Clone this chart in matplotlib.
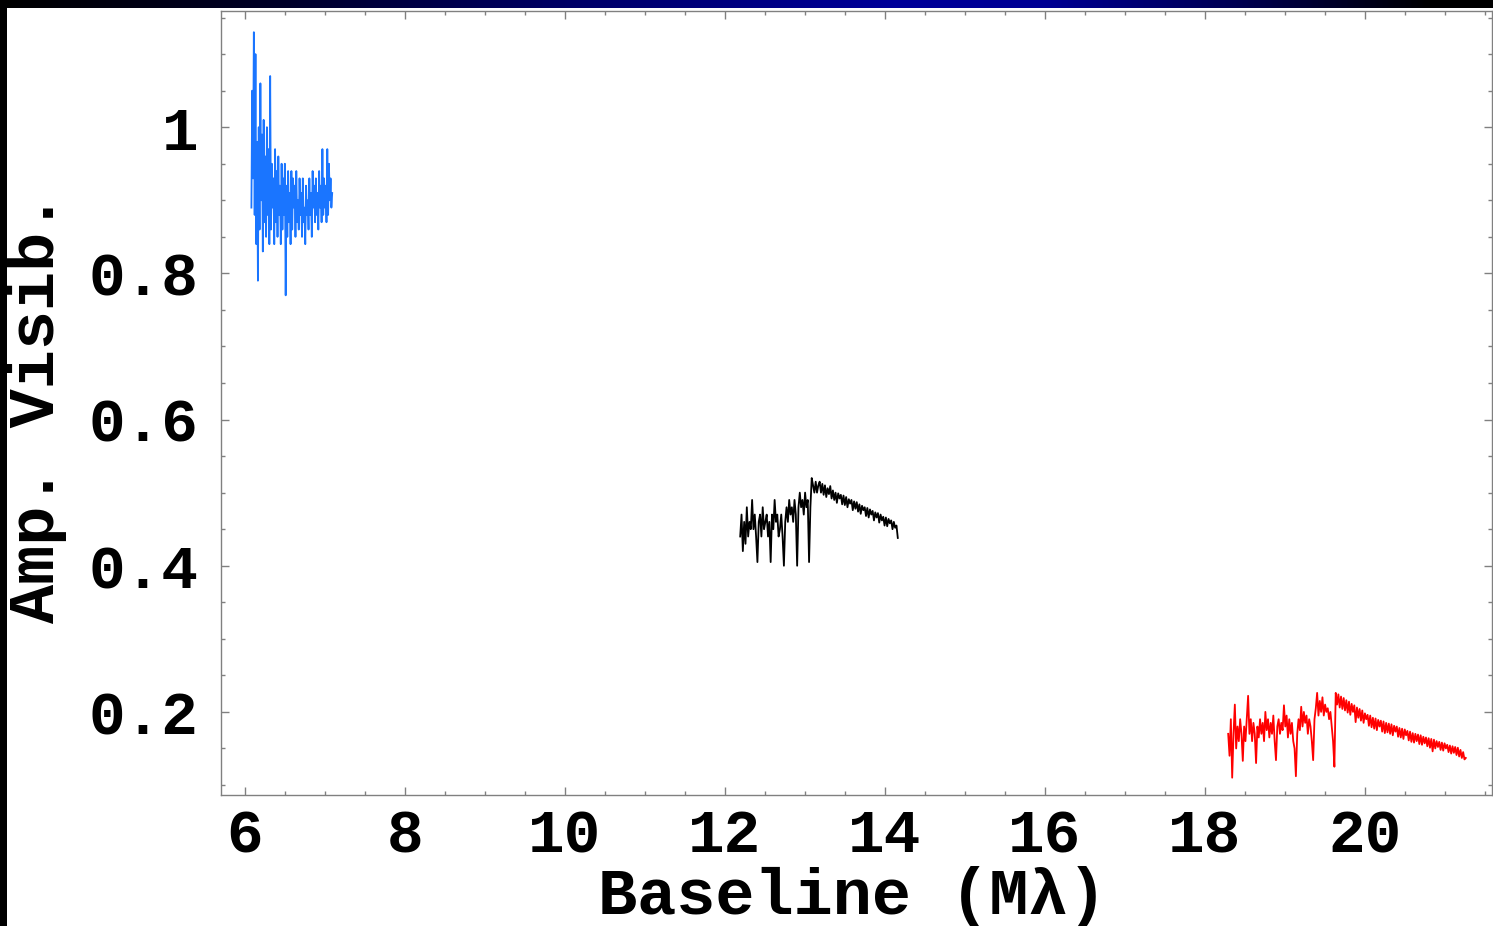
import numpy as np
import matplotlib
matplotlib.use("Agg")
import matplotlib.pyplot as plt
from matplotlib.colors import LinearSegmentedColormap

# ---------------- data ----------------
blue_x_range = (6.08, 7.09)
blue_vis = [
    0.89, 1.05, 0.93, 1.13, 0.88, 1.10, 0.84, 0.98, 0.79, 1.00,
    0.86, 1.06, 0.90, 0.99, 0.83, 1.01, 0.87, 0.96, 0.85, 1.00,
    0.88, 0.97, 0.84, 1.07, 0.86, 0.95, 0.89, 0.93, 0.84, 0.97,
    0.87, 0.94, 0.85, 0.96, 0.88, 0.92, 0.84, 0.95, 0.86, 0.93,
    0.88, 0.95, 0.77, 0.92, 0.85, 0.94, 0.87, 0.91, 0.84, 0.94,
    0.86, 0.93, 0.89, 0.92, 0.85, 0.94, 0.87, 0.90, 0.86, 0.93,
    0.88, 0.91, 0.85, 0.93, 0.87, 0.89, 0.84, 0.92, 0.88, 0.90,
    0.86, 0.93, 0.88, 0.91, 0.85, 0.94, 0.89, 0.92, 0.87, 0.93,
    0.88, 0.91, 0.86, 0.94, 0.89, 0.92, 0.87, 0.97, 0.88, 0.93,
    0.89, 0.92, 0.87, 0.97, 0.88, 0.95, 0.90, 0.93, 0.89, 0.91,
]

black_x_range = (12.19, 14.16)
black_vis = [
    0.44, 0.47, 0.42, 0.46, 0.43, 0.48, 0.44, 0.46, 0.45, 0.49,
    0.45, 0.47, 0.44, 0.405, 0.46, 0.47, 0.44, 0.48, 0.45, 0.46,
    0.47, 0.44, 0.46, 0.405, 0.47, 0.45, 0.49, 0.46, 0.47, 0.44,
    0.45, 0.47, 0.44, 0.40, 0.46, 0.48, 0.46, 0.49, 0.47, 0.48,
    0.46, 0.49, 0.47, 0.40, 0.48, 0.50, 0.48, 0.49, 0.47, 0.50,
    0.48, 0.49, 0.405, 0.48, 0.52, 0.51, 0.50, 0.515, 0.50, 0.51,
    0.515, 0.500, 0.512, 0.497, 0.510, 0.494, 0.506, 0.498, 0.509, 0.492,
    0.503, 0.490, 0.500, 0.486, 0.499, 0.492, 0.497, 0.484, 0.496, 0.483,
    0.494, 0.480, 0.491, 0.485, 0.490, 0.476, 0.488, 0.478, 0.487, 0.474,
    0.484, 0.471, 0.482, 0.476, 0.480, 0.468, 0.479, 0.466, 0.477, 0.470,
    0.475, 0.462, 0.473, 0.466, 0.472, 0.459, 0.470, 0.462, 0.467, 0.455,
    0.466, 0.454, 0.464, 0.458, 0.462, 0.450, 0.460, 0.452, 0.455, 0.438,
]

red_x_range = (18.29, 21.26)
red_vis = [
    0.17, 0.14, 0.19, 0.11, 0.17, 0.21, 0.15, 0.18, 0.16, 0.19,
    0.17, 0.133, 0.18, 0.16, 0.19, 0.222, 0.17, 0.19, 0.16, 0.185,
    0.17, 0.13, 0.18, 0.165, 0.19, 0.17, 0.185, 0.16, 0.20, 0.175,
    0.19, 0.165, 0.185, 0.17, 0.195, 0.16, 0.134, 0.18, 0.19, 0.17,
    0.185, 0.175, 0.209, 0.18, 0.195, 0.165, 0.19, 0.17, 0.185, 0.16,
    0.15, 0.112, 0.17, 0.19, 0.175, 0.207, 0.18, 0.20, 0.185, 0.195,
    0.17, 0.19, 0.18, 0.16, 0.134, 0.19, 0.205, 0.226, 0.195, 0.215,
    0.20, 0.22, 0.195, 0.21, 0.20, 0.205, 0.19, 0.20, 0.18, 0.16,
    0.125, 0.226, 0.210, 0.224, 0.206, 0.221, 0.204, 0.219, 0.202, 0.216,
    0.199, 0.214, 0.196, 0.211, 0.200, 0.209, 0.186, 0.206, 0.192, 0.204,
    0.188, 0.202, 0.185, 0.198, 0.190, 0.196, 0.181, 0.195, 0.179, 0.192,
    0.177, 0.191, 0.175, 0.189, 0.180, 0.188, 0.173, 0.187, 0.171, 0.185,
    0.172, 0.184, 0.170, 0.183, 0.168, 0.181, 0.173, 0.180, 0.166, 0.178,
    0.165, 0.177, 0.163, 0.176, 0.168, 0.174, 0.161, 0.173, 0.159, 0.171,
    0.158, 0.170, 0.160, 0.169, 0.156, 0.168, 0.155, 0.166, 0.157, 0.165,
    0.153, 0.164, 0.151, 0.163, 0.146, 0.162, 0.150, 0.160, 0.152, 0.159,
    0.148, 0.158, 0.147, 0.157, 0.150, 0.155, 0.145, 0.154, 0.143, 0.153,
    0.144, 0.152, 0.141, 0.151, 0.139, 0.148, 0.137, 0.145, 0.135, 0.137,
]

x_ticks = [6, 8, 10, 12, 14, 16, 18, 20]
y_ticks = [0.2, 0.4, 0.6, 0.8, 1.0]
y_ticklabels = ["0.2", "0.4", "0.6", "0.8", "1"]
x_label = "Baseline (M\u03bb)"
y_label = "Amp. Visib."

# ---------------- figure ----------------
W, H, DPI = 1493, 926, 100
fig = plt.figure(figsize=(W / DPI, H / DPI), dpi=DPI, facecolor="white")

# decorative frame: black left bar and black-blue-black top bar
left_bar = fig.add_axes([0, 0, 7 / W, 1])
left_bar.set_facecolor("black")
left_bar.set_xticks([]); left_bar.set_yticks([])
for s in left_bar.spines.values():
    s.set_visible(False)

top_bar = fig.add_axes([0, 1 - 8 / H, 1, 8 / H])
cmap = LinearSegmentedColormap.from_list(
    "bar", [(0.0, (0, 0, 0)), (0.19, (0, 0, 0.16)), (0.38, (0, 0, 0.40)),
            (0.6, (0, 0, 0.60)), (0.7, (0, 0, 0.58)), (0.83, (0, 0, 0.32)),
            (0.96, (0, 0, 0)), (1.0, (0, 0, 0))])
top_bar.imshow(np.linspace(0, 1, 512)[None, :], aspect="auto", cmap=cmap,
               extent=[0, 1, 0, 1])
top_bar.set_xticks([]); top_bar.set_yticks([])
for s in top_bar.spines.values():
    s.set_visible(False)

# main axes
ax = fig.add_axes([221 / W, 1 - 795 / H, (1492 - 221) / W, (795 - 11) / H])
ax.set_facecolor("white")

for xr, vals, col in [(blue_x_range, blue_vis, "#1a75ff"),
                      (black_x_range, black_vis, "black"),
                      (red_x_range, red_vis, "#ff0000")]:
    xs = np.linspace(xr[0], xr[1], len(vals))
    ax.plot(xs, vals, color=col, lw=1.3)

ax.set_xlim(5.7, 21.5875)
ax.set_ylim(0.0863, 1.159)

tick_font = dict(family="Liberation Mono", weight="bold", size=44)
label_font = dict(family="Liberation Mono", weight="bold", size=47)
ax.set_xticks(x_ticks)
ax.set_xticklabels([str(t) for t in x_ticks], **tick_font)
ax.set_yticks(y_ticks)
ax.set_yticklabels(y_ticklabels, **tick_font)
ax.xaxis.set_minor_locator(matplotlib.ticker.MultipleLocator(0.5))
ax.yaxis.set_minor_locator(matplotlib.ticker.MultipleLocator(0.05))

ax.tick_params(which="both", direction="in", top=True, right=True,
               color="#808080", width=1.0)
ax.tick_params(which="major", length=6)
ax.tick_params(which="minor", length=3)
ax.tick_params(axis="x", which="major", pad=9)
ax.tick_params(axis="y", which="major", pad=16)
for s in ax.spines.values():
    s.set_color("#808080")
    s.set_linewidth(1.0)

ax.set_xlabel(x_label, **label_font)
ax.xaxis.label.set_va("center")
ax.xaxis.set_label_coords(0.4965, -0.130)
ax.set_ylabel(y_label, **label_font)
ax.yaxis.label.set_va("center")
ax.yaxis.set_label_coords(-0.1448, 0.4936)

fig.savefig("out.png", dpi=DPI, facecolor="white")
